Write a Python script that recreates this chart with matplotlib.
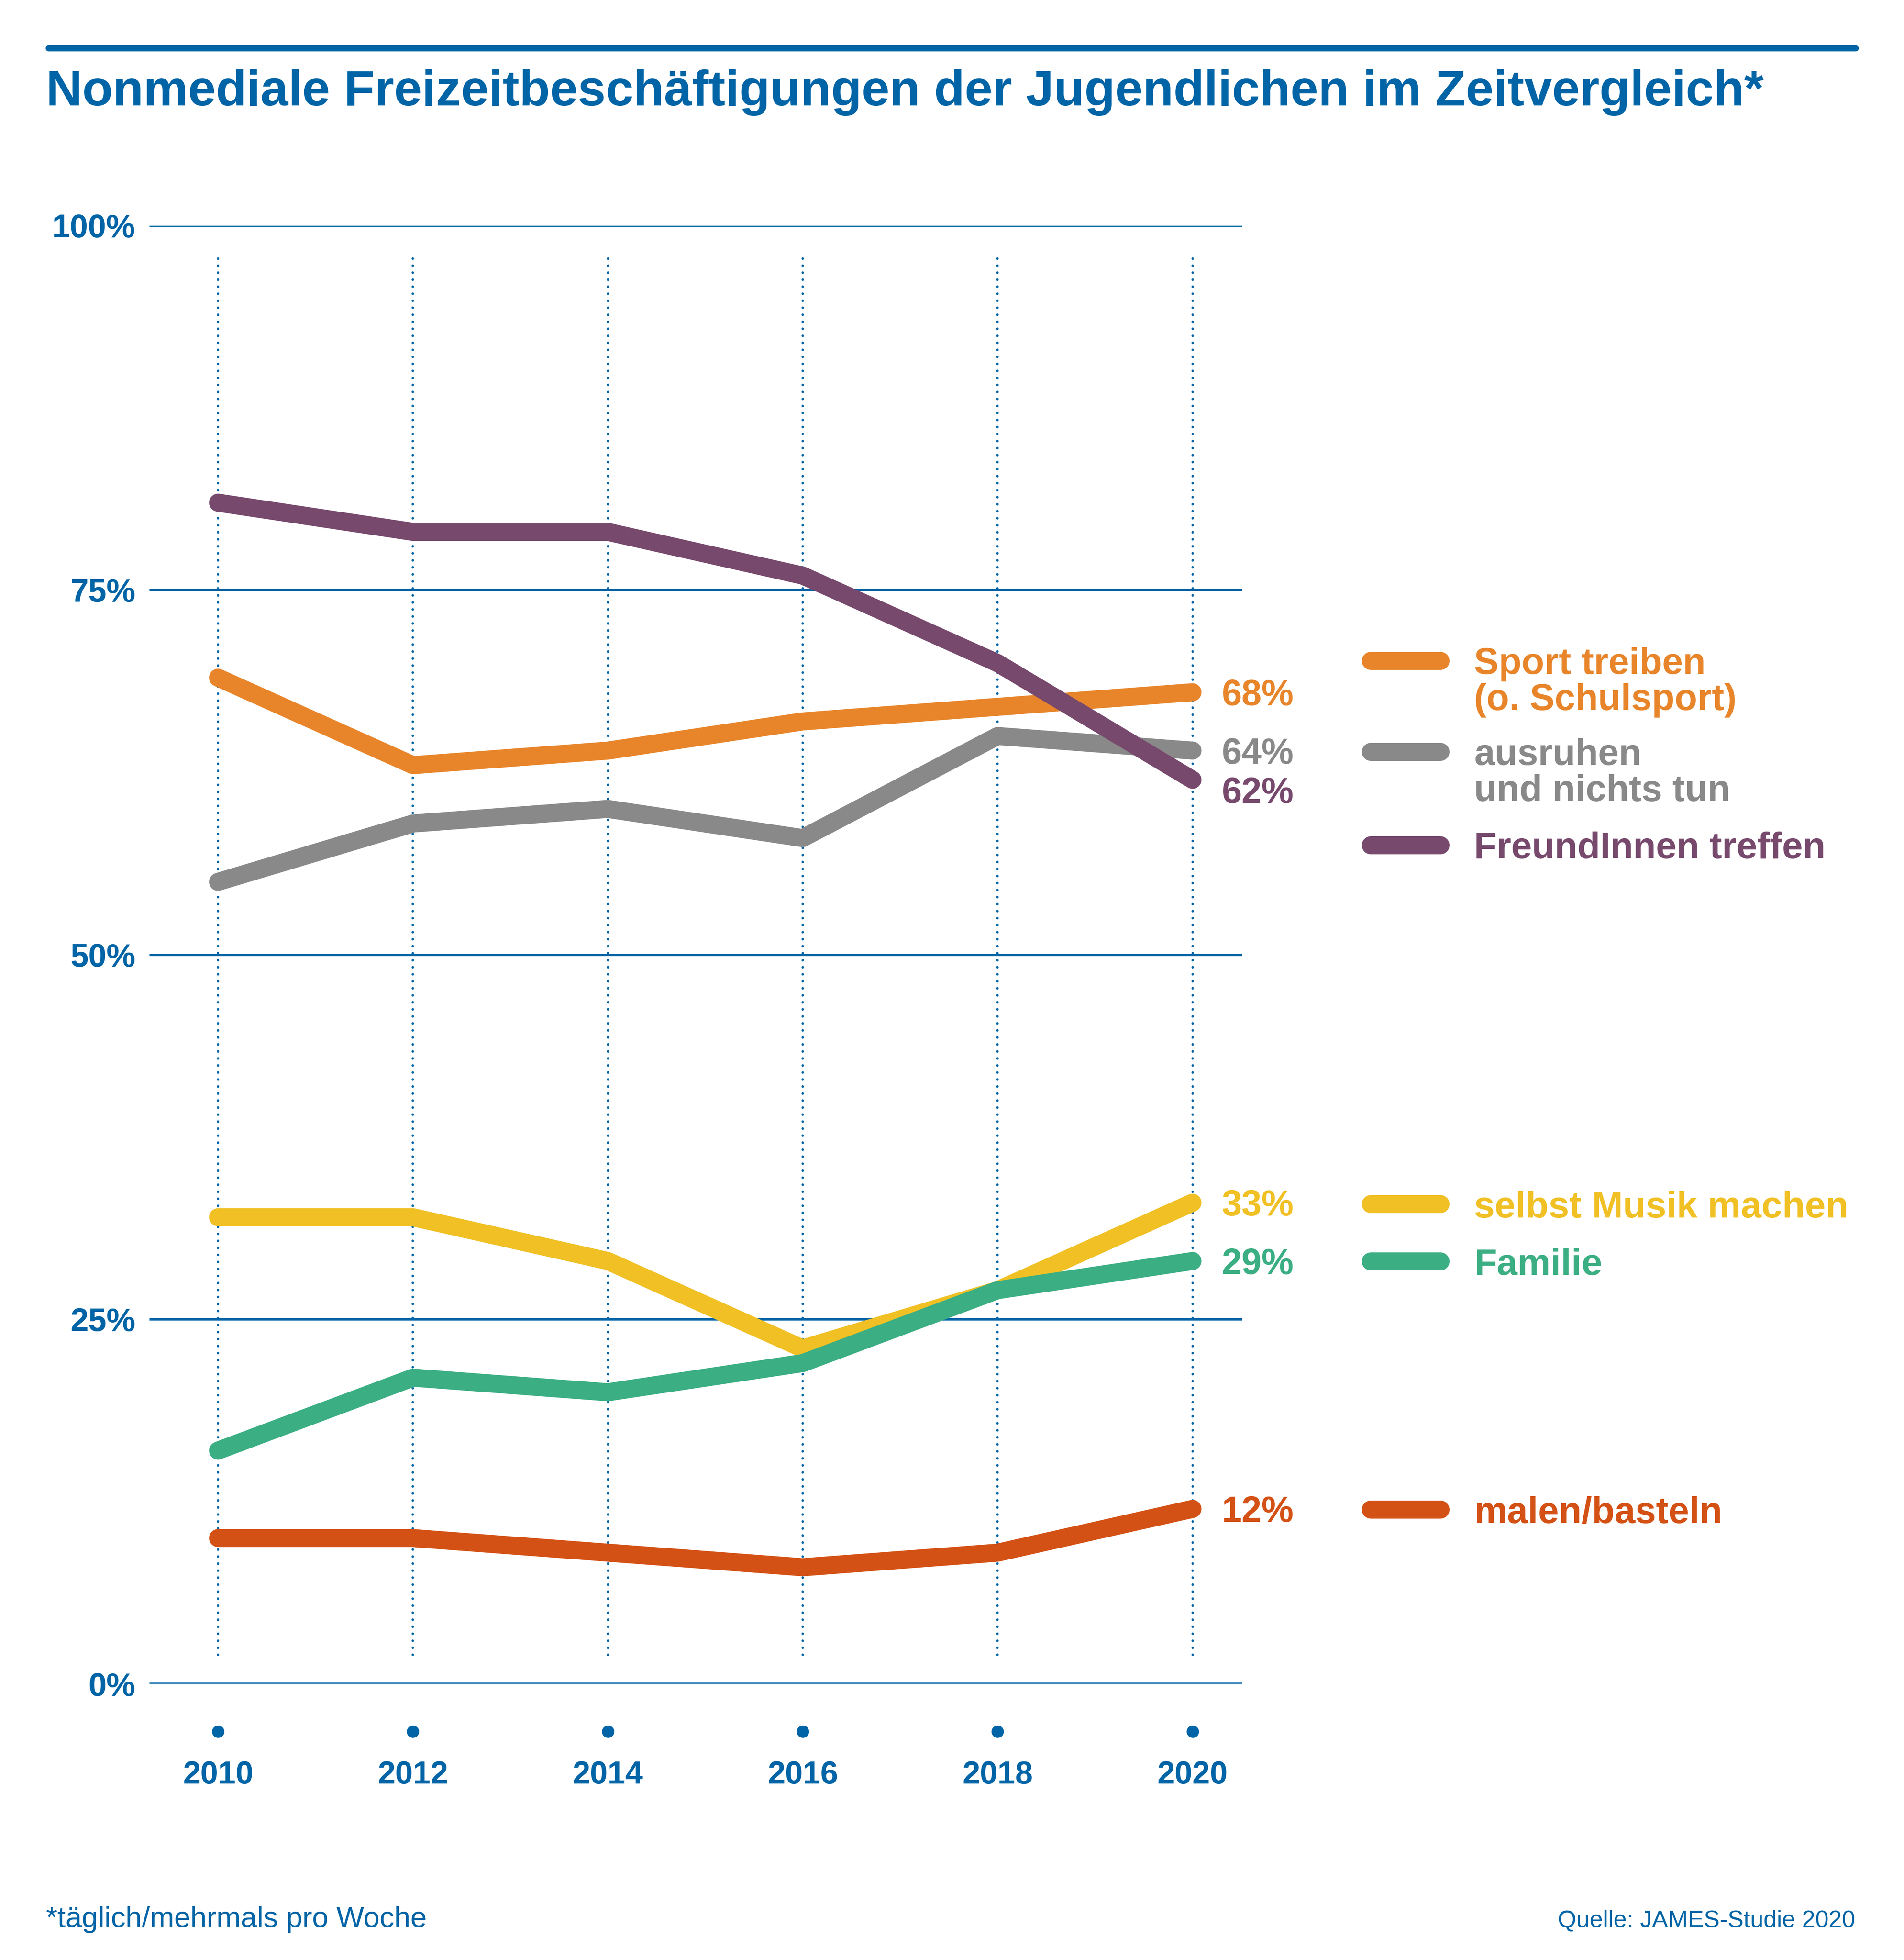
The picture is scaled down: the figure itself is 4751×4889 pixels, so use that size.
import matplotlib.pyplot as plt
import matplotlib.transforms as mtransforms
from matplotlib.lines import Line2D

plt.rcParams['font.family'] = ['Liberation Sans', 'DejaVu Sans']

BLUE = '#0064a6'

years = [2010, 2012, 2014, 2016, 2018, 2020]

freunde = [81, 79, 79, 76, 70, 62]
sport = [69, 63, 64, 66, 67, 68]
ausruhen = [55, 59, 60, 58, 65, 64]
musik = [32, 32, 29, 23, 27, 33]
familie = [16, 21, 20, 22, 27, 29]
malen = [10, 10, 9, 8, 9, 12]

series_names = ['Sport treiben\n(o. Schulsport)', 'ausruhen\nund nichts tun', 'FreundInnen treffen',
                'selbst Musik machen', 'Familie', 'malen/basteln']
series_vals = [sport, ausruhen, freunde, musik, familie, malen]
series_cols = ['#e8852a', '#898989', '#77496d', '#f0c024', '#3bae83', '#d45115']
# layout only: legend rows (reference px) and nudge for end labels (in % points)
legend_y = [530, 603, 678, 966, 1012, 1211]
label_nudge = [0, 0, -0.7, 0, 0, 0]

W, H = 1528, 1572.5
fig = plt.figure(figsize=(4751 / 300, 4889 / 300), dpi=300)


def fx(x):
    return x / W


def fy(y):
    return 1 - y / H


def ctext(x, y, s, fs, transform, dx=0, **kw):
    # text whose cap height is centred on y
    tr = mtransforms.offset_copy(transform, fig=fig, x=dx, y=-0.36 * fs, units='points')
    return fig.text(x, y, s, transform=tr, va='baseline', fontsize=fs, **kw)


# axes: x from 120 to 997 px, y from 181 (100%) to 1351 (0%)
ax = fig.add_axes([fx(120), fy(1351), fx(997) - fx(120), fy(181) - fy(1351)])
per_year = (957 - 175) / 10
ax.set_xlim(2010 - (175 - 120) / per_year, 2020 + (997 - 957) / per_year)
ax.set_ylim(0, 100)
ax.axis('off')

for v in [0, 25, 50, 75, 100]:
    ax.axhline(v, color=BLUE, lw=1.4, zorder=1)
    ctext(0, v, f'{v}%', 19.5, ax.get_yaxis_transform(), dx=-8.4, ha='right',
          color=BLUE, fontweight='bold')

for yr in years:
    ax.plot([yr, yr], [2, 98], color=BLUE, lw=1.4, ls=(0, (0.1, 2.9)),
            dash_capstyle='round', zorder=1)
    ax.plot([yr], [-3.25], 'o', color=BLUE, ms=7.4, mew=0, clip_on=False)
    ctext(yr, -6.05, str(yr), 19, ax.transData, ha='center', color=BLUE, fontweight='bold')

for vals, col in zip(series_vals, series_cols):
    ax.plot(years, vals, color=col, lw=10.8, solid_capstyle='round', solid_joinstyle='round',
            zorder=3)

# end value labels
for vals, col, nudge in zip(series_vals, series_cols, label_nudge):
    ctext(2020.30, vals[-1] + nudge, f'{vals[-1]}%', 21.5, ax.transData, ha='left',
          color=col, fontweight='bold')

# legend
for name, col, ly in zip(series_names, series_cols, legend_y):
    fig.add_artist(Line2D([fx(1100), fx(1156)], [fy(ly), fy(ly)], color=col, lw=10.8,
                          solid_capstyle='round'))
    for i, line in enumerate(name.split('\n')):
        ctext(fx(1183), fy(ly + i * 29), line, 22.3, fig.transFigure, ha='left', color=col,
              fontweight='bold')

# top rule and title
fig.add_artist(Line2D([fx(39), fx(1489)], [fy(38.6), fy(38.6)], color=BLUE, lw=3.7,
                      solid_capstyle='round'))
fig.text(fx(37), fy(84.7), 'Nonmediale Freizeitbeschäftigungen der Jugendlichen im Zeitvergleich*',
         ha='left', va='baseline', color=BLUE, fontsize=30, fontweight='bold')

fig.text(fx(37), fy(1546), '*täglich/mehrmals pro Woche', ha='left', va='baseline',
         color=BLUE, fontsize=17.5)
fig.text(fx(1489), fy(1546), 'Quelle: JAMES-Studie 2020', ha='right', va='baseline',
         color=BLUE, fontsize=14.3)

fig.savefig('out.png', dpi=300, facecolor='white')
